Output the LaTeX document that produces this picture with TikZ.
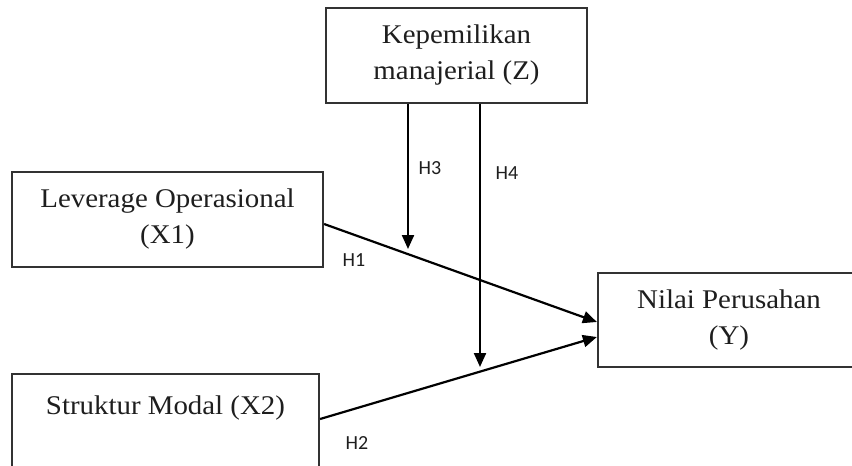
\documentclass[tikz,border=0pt]{standalone}
\usepackage{fontspec}
\setmainfont{Liberation Serif}[FakeStretch=1.07]
\newfontfamily\hypFont{Carlito}
\usetikzlibrary{positioning,arrows.meta,calc}
\tikzstyle{diagram} = [x = 1pt, y = -1pt]
\definecolor{boxColor}{RGB}{50,50,50}
\definecolor{textColor}{RGB}{30,30,30}
\tikzstyle{varBox} = [draw=boxColor, line width=2.2pt, align=center, text=textColor, inner sep=0pt, font=\fontsize{27}{36}\selectfont]
\tikzstyle{pathArrow} = [line width=2.2pt, -{Triangle[length=14pt,width=12pt]}]
\tikzstyle{hypText} = [text=textColor, inner sep=0pt, font=\hypFont\fontsize{20}{20}\selectfont]

\begin{document}
\begin{tikzpicture}[diagram]
  \clip (0,0) rectangle (852,466);
  \fill[white] (0,0) rectangle (852,466);

  % variables
  \node[varBox, minimum width=261pt, minimum height=95pt] (z) at (456.5,55.5) {Kepemilikan\\manajerial (Z)};
  \node[varBox, minimum width=311pt, minimum height=95pt] (x1) at (167.5,219.5) {Leverage Operasional\\(X1)};
  \node[varBox, minimum width=307pt, minimum height=110pt] (x2) at (165.5,429) {Struktur Modal (X2)\\\strut};
  \node[varBox, minimum width=262pt, minimum height=94pt] (y) at (729,320) {Nilai Perusahan\\(Y)};

  % direct paths
  \draw[pathArrow] ([yshift=-4.5pt]x1.east) -- ([yshift=-2pt]y.west);
  \draw[pathArrow] ([yshift=10pt]x2.east) -- ([yshift=-17pt]y.west);

  % moderation
  \coordinate (h3Tip) at (408,249);
  \coordinate (h4Tip) at (480,367);
  \draw[pathArrow] (z.south -| h3Tip) -- (h3Tip);
  \draw[pathArrow] (z.south -| h4Tip) -- (h4Tip);

  % hypotheses
  \node[hypText] (h1) at (354,260) {H1};
  \node[hypText] (h2) at (357,443) {H2};
  \node[hypText] (h3) at (430,168) {H3};
  \node[hypText] (h4) at (507,173) {H4};
\end{tikzpicture}
\end{document}
